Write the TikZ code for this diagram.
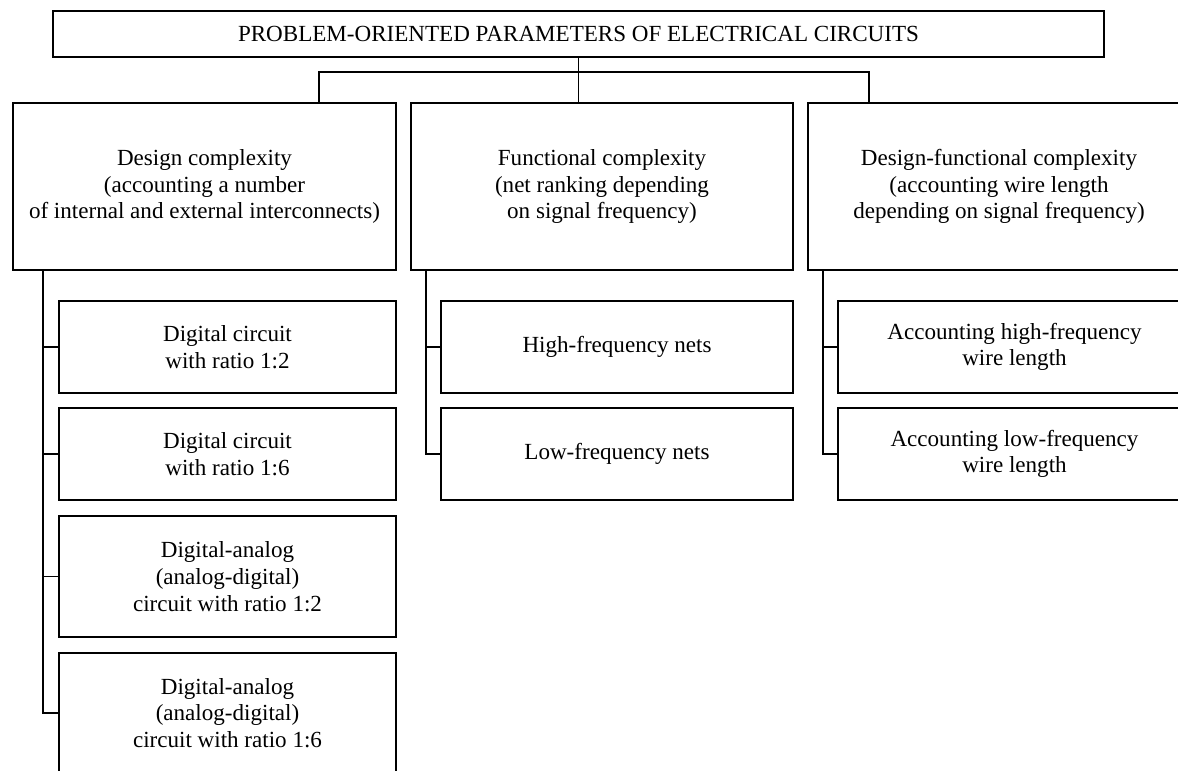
\documentclass[tikz,border=0pt]{standalone}
\usepackage{fontspec}
\setmainfont{Liberation Serif}
\begin{document}
\begin{tikzpicture}[x=0.75pt,y=-0.75pt,
  box/.style={draw,line width=1.4pt,inner sep=0pt,align=center,
    font=\fontsize{17.3}{20}\selectfont},
  conn/.style={line width=1.4pt}]
\useasboundingbox (0,0) rectangle (1178,771);
\fill[white] (0,0) rectangle (1178,771);
\begin{scope}
\clip (0,0) rectangle (1178,771);
% top
\node[box,minimum width=788.25pt,minimum height=34.5pt] (top) at (578.5,34)
  {PROBLEM-ORIENTED PARAMETERS OF ELECTRICAL CIRCUITS};
% level 1
\node[box,minimum width=287.25pt,minimum height=125.25pt] (L) at (204.5,186.5)
  {Design complexity\\(accounting a number\\of internal and external interconnects)};
\node[box,minimum width=286.5pt,minimum height=125.25pt] (M) at (602,186.5)
  {Functional complexity\\(net ranking depending\\on signal frequency)};
\node[box,minimum width=286.5pt,minimum height=125.25pt] (R) at (999,186.5)
  {Design-functional complexity\\(accounting wire length\\depending on signal frequency)};
% left children
\node[box,minimum width=252.75pt,minimum height=69pt] (c1) at (227.5,347)
  {Digital circuit\\with ratio 1:2};
\node[box,minimum width=252.75pt,minimum height=69pt] (c2) at (227.5,454)
  {Digital circuit\\with ratio 1:6};
\node[box,minimum width=252.75pt,minimum height=90.75pt] (c3) at (227.5,576.5)
  {Digital-analog\\(analog-digital)\\circuit with ratio 1:2};
\node[box,minimum width=252.75pt,minimum height=90pt] (c4) at (227.5,713)
  {Digital-analog\\(analog-digital)\\circuit with ratio 1:6};
% middle children
\node[box,minimum width=264pt,minimum height=69pt] (m1) at (617,347)
  {High-frequency nets};
\node[box,minimum width=264pt,minimum height=69pt] (m2) at (617,454)
  {Low-frequency nets};
% right children
\node[box,minimum width=264.75pt,minimum height=69pt] (r1) at (1014.5,347)
  {Accounting high-frequency\\wire length};
\node[box,minimum width=264.75pt,minimum height=69pt] (r2) at (1014.5,454)
  {Accounting low-frequency\\wire length};
% top connectors
\coordinate (bl) at (319,72);
\coordinate (br) at (869,72);
\draw[conn] (L.north -| bl) -- (bl) -- (br) -- (R.north -| br);
\draw[conn] (top.south) -- (top.south |- M.north);
% spines
\coordinate (s1) at (43,0);
\coordinate (s2) at (426,0);
\coordinate (s3) at (823,0);
\draw[conn] (L.south -| s1) |- (c4.west);
\foreach \c in {c1,c2,c3} \draw[conn] (s1 |- \c.west) -- (\c.west);
\draw[conn] (M.south -| s2) |- (m2.west);
\draw[conn] (s2 |- m1.west) -- (m1.west);
\draw[conn] (R.south -| s3) |- (r2.west);
\draw[conn] (s3 |- r1.west) -- (r1.west);
\end{scope}
\end{tikzpicture}
\end{document}
